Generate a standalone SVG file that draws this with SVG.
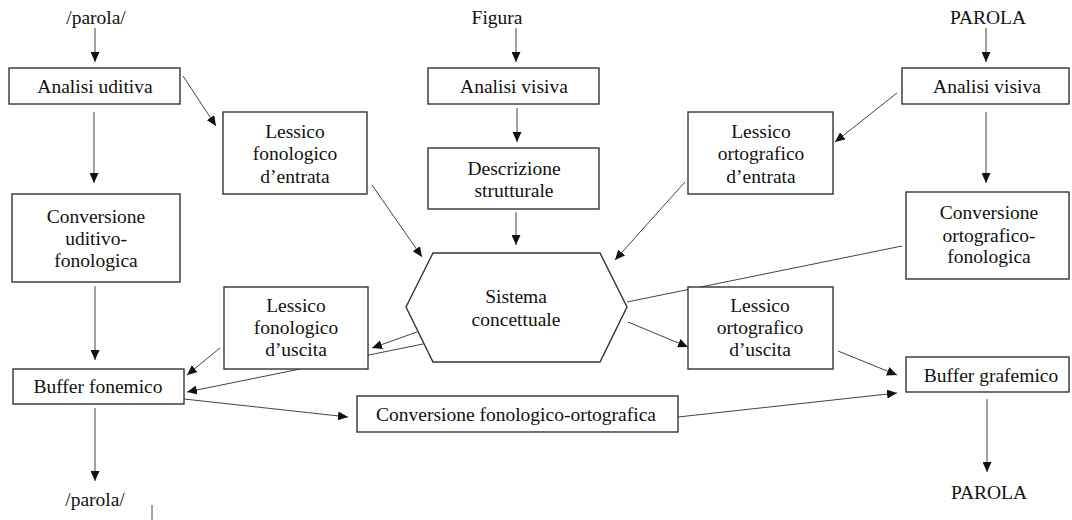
<svg xmlns="http://www.w3.org/2000/svg" width="1072" height="520" viewBox="0 0 1072 520">
<style>
.box{fill:#fff;stroke:#333;stroke-width:1.4}
.c{stroke:#444;stroke-width:1;fill:none}
.a{marker-end:url(#arr)}
.t{font-family:'Liberation Serif','DejaVu Serif',serif;font-size:19.5px;fill:#111;text-anchor:middle}
</style>
<defs>
<marker id="arr" markerUnits="userSpaceOnUse" markerWidth="11" markerHeight="9" refX="10" refY="4.5" orient="auto">
<path d="M0,0 L10,4.5 L0,9 z" fill="#111"/>
</marker>
</defs>
<rect width="1072" height="520" fill="#fff"/>
<g id="connectors">
<line class="c a" x1="95" y1="28" x2="95" y2="62"/>
<line class="c a" x1="516" y1="28" x2="516" y2="62"/>
<line class="c a" x1="986" y1="28" x2="986" y2="62"/>
<line class="c a" x1="183" y1="76" x2="216" y2="126"/>
<line class="c a" x1="94" y1="112" x2="94" y2="183"/>
<line class="c a" x1="517" y1="108" x2="517" y2="142"/>
<line class="c a" x1="897" y1="93" x2="835" y2="142"/>
<line class="c a" x1="986" y1="112" x2="986" y2="183"/>
<line class="c a" x1="372" y1="185" x2="422" y2="257"/>
<line class="c a" x1="516" y1="212" x2="516" y2="245"/>
<line class="c a" x1="685" y1="182" x2="615" y2="260"/>
<line class="c" x1="902" y1="246" x2="627" y2="302"/>
<line class="c a" x1="95" y1="286" x2="95" y2="360"/>
<line class="c a" x1="417" y1="332" x2="372" y2="348"/>
<line class="c a" x1="423" y1="344" x2="187" y2="392"/>
<line class="c a" x1="220" y1="348" x2="187" y2="375"/>
<line class="c a" x1="628" y1="322" x2="688" y2="347"/>
<line class="c a" x1="838" y1="351" x2="897" y2="375"/>
<line class="c a" x1="184" y1="399" x2="348" y2="417"/>
<line class="c a" x1="678" y1="417" x2="897" y2="393"/>
<line class="c a" x1="95" y1="408" x2="95" y2="481"/>
<line class="c a" x1="987" y1="399" x2="987" y2="472"/>
<line class="c" x1="152" y1="505" x2="152" y2="520"/>
</g>
<g font-family="'Liberation Serif', 'DejaVu Serif', serif">
<g id="in-parola"><text class="t" x="96" y="24">/parola/</text></g>
<g id="in-figura"><text class="t" x="497" y="24">Figura</text></g>
<g id="in-PAROLA"><text class="t" x="988" y="24">PAROLA</text></g>
<g id="analisi-uditiva"><rect class="box" x="9" y="68" width="171" height="36"/><text class="t" x="95" y="93">Analisi uditiva</text></g>
<g id="analisi-visiva-fig"><rect class="box" x="428" y="68" width="171" height="36"/><text class="t" x="514" y="93">Analisi visiva</text></g>
<g id="analisi-visiva-par"><rect class="box" x="902" y="68" width="167" height="36"/><text class="t" x="987" y="93">Analisi visiva</text></g>
<g id="lessico-fon-entrata"><rect class="box" x="223" y="112" width="144" height="82"/><text class="t" x="295" y="138">Lessico</text><text class="t" x="295" y="160">fonologico</text><text class="t" x="295" y="183">d’entrata</text></g>
<g id="descrizione"><rect class="box" x="428" y="148" width="171" height="61"/><text class="t" x="514" y="175">Descrizione</text><text class="t" x="514" y="197">strutturale</text></g>
<g id="lessico-orto-entrata"><rect class="box" x="688" y="112" width="145" height="82"/><text class="t" x="761" y="138">Lessico</text><text class="t" x="761" y="160">ortografico</text><text class="t" x="761" y="183">d’entrata</text></g>
<g id="conv-uditivo"><rect class="box" x="12" y="194" width="168" height="88"/><text class="t" x="96" y="223">Conversione</text><text class="t" x="96" y="245">uditivo-</text><text class="t" x="96" y="267">fonologica</text></g>
<g id="conv-ortografico"><rect class="box" x="906" y="192" width="163" height="87"/><text class="t" x="989" y="219">Conversione</text><text class="t" x="989" y="242">ortografico-</text><text class="t" x="989" y="263">fonologica</text></g>
<g id="sistema"><polygon class="box" points="433,253 600,253 627,307 600,362 433,362 406,307"/><text class="t" x="516" y="303">Sistema</text><text class="t" x="516" y="326">concettuale</text></g>
<g id="lessico-fon-uscita"><rect class="box" x="224" y="287" width="144" height="82"/><text class="t" x="296" y="312">Lessico</text><text class="t" x="296" y="334">fonologico</text><text class="t" x="296" y="356">d’uscita</text></g>
<g id="lessico-orto-uscita"><rect class="box" x="688" y="287" width="145" height="82"/><text class="t" x="760" y="312">Lessico</text><text class="t" x="760" y="334">ortografico</text><text class="t" x="760" y="356">d’uscita</text></g>
<g id="buffer-fonemico"><rect class="box" x="13" y="369" width="171" height="35"/><text class="t" x="98" y="393">Buffer fonemico</text></g>
<g id="buffer-grafemico"><rect class="box" x="906" y="357" width="163" height="35"/><text class="t" x="991" y="382">Buffer grafemico</text></g>
<g id="conv-fon-orto"><rect class="box" x="357" y="396" width="321" height="36"/><text class="t" x="516" y="421">Conversione fonologico-ortografica</text></g>
<g id="out-parola"><text class="t" x="95" y="506">/parola/</text></g>
<g id="out-PAROLA"><text class="t" x="989" y="499">PAROLA</text></g>
</g>
</svg>
